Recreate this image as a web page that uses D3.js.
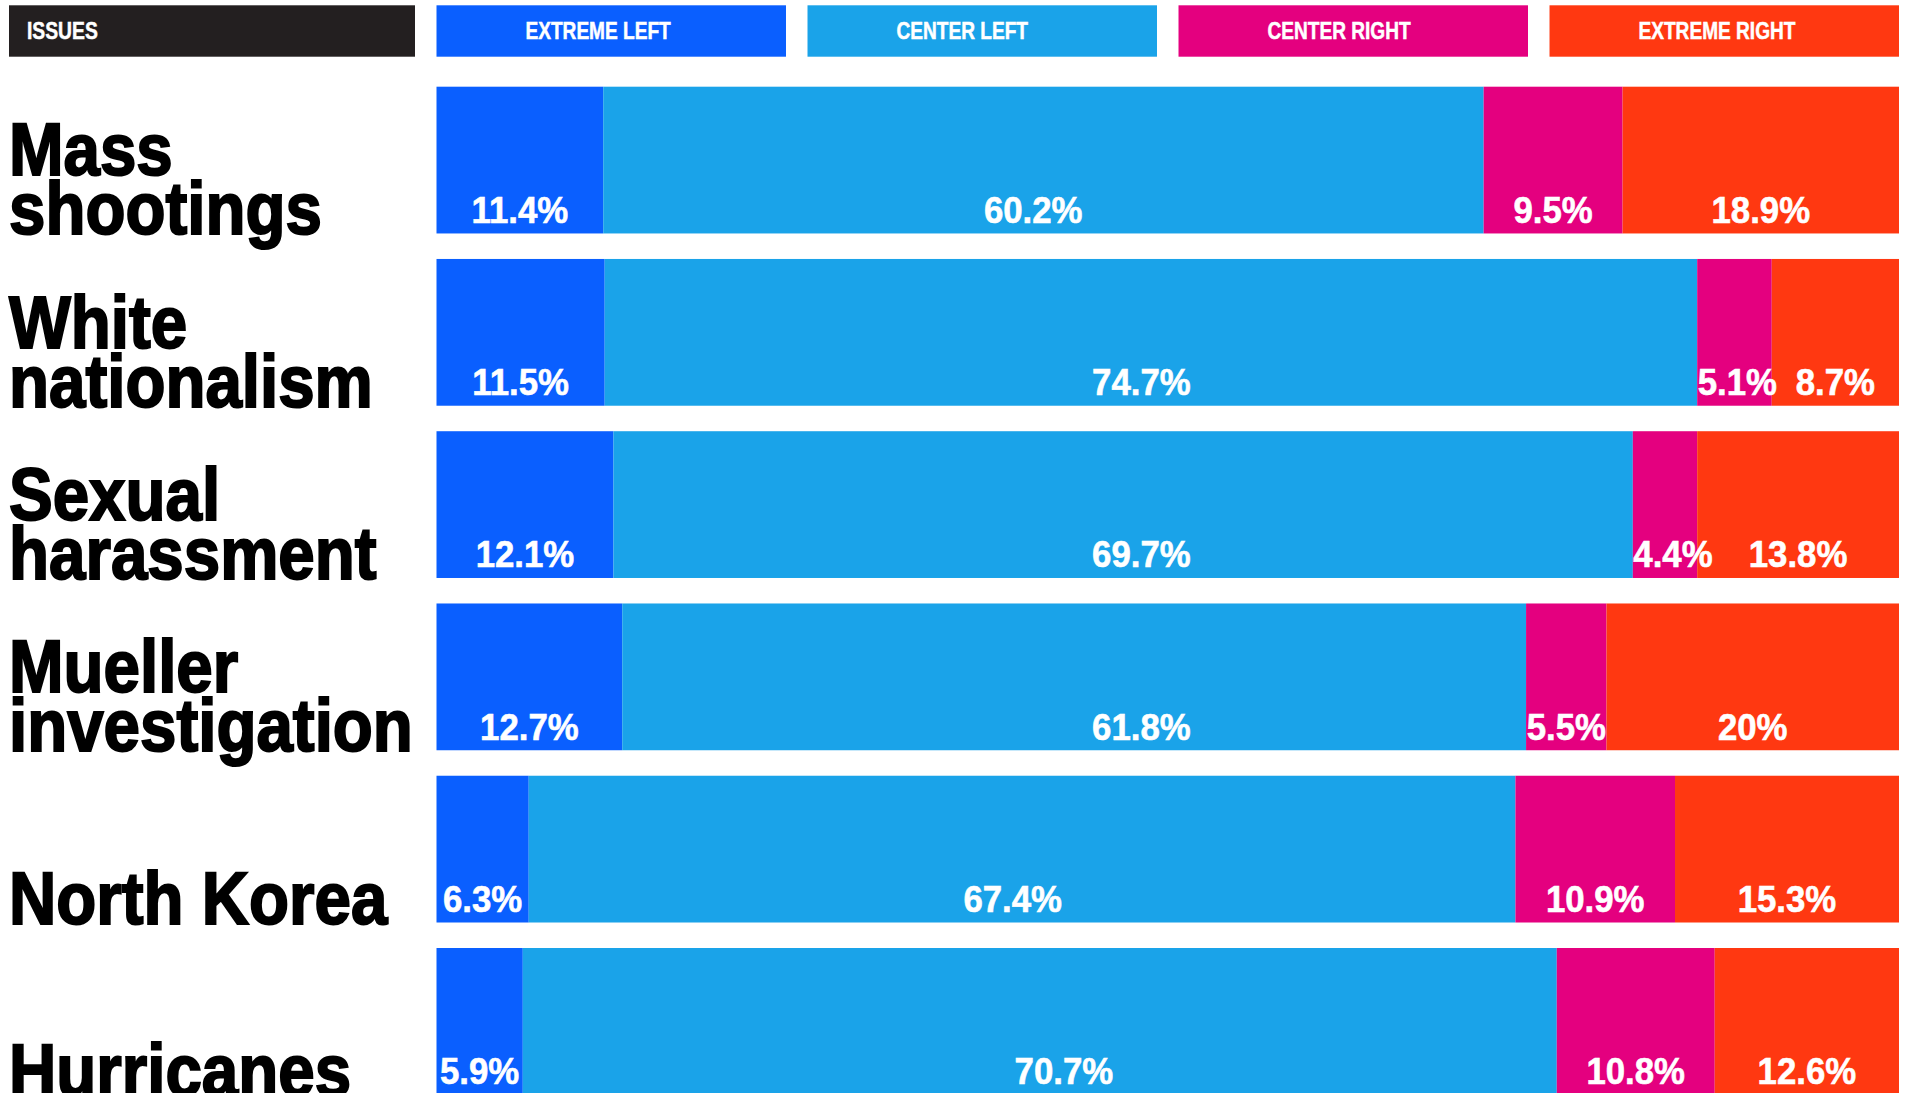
<!DOCTYPE html>
<html>
<head>
<meta charset="utf-8">
<script src="https://cdn.jsdelivr.net/npm/d3@7"></script>
<style>
  html, body { margin: 0; padding: 0; background: #ffffff; }
  svg { display: block; }
  text { font-family: "Liberation Sans", Arial, Helvetica, sans-serif; font-weight: bold; }
</style>
</head>
<body>
<svg id="chart" width="1907" height="1093"></svg>
<script>
// ---- data ----
const categories = ["EXTREME LEFT", "CENTER LEFT", "CENTER RIGHT", "EXTREME RIGHT"];
const keys = ["extremeLeft", "centerLeft", "centerRight", "extremeRight"];
const issues = ["Mass shootings", "White nationalism", "Sexual harassment", "Mueller investigation", "North Korea", "Hurricanes"];
const issueLines = [["Mass", "shootings"], ["White", "nationalism"], ["Sexual", "harassment"], ["Mueller", "investigation"], ["North Korea"], ["Hurricanes"]];
const extremeLeft  = [11.4, 11.5, 12.1, 12.7, 6.3, 5.9];
const centerLeft   = [60.2, 74.7, 69.7, 61.8, 67.4, 70.7];
const centerRight  = [9.5, 5.1, 4.4, 5.5, 10.9, 10.8];
const extremeRight = [18.9, 8.7, 13.8, 20, 15.3, 12.6];
// where the "center left" value label sits along the bar, in percent of the bar (as placed in the original)
const centerLeftLabelAt = [40.8, 48.2, 48.2, 48.2, 39.4, 42.9];
const headerLabel = "ISSUES";

const colors = ["#0a5fff", "#1aa3e9", "#e4007f", "#ff3811"];
const headerColor = "#231f20";

const rows = issues.map((name, i) => ({
  issue: name,
  extremeLeft: extremeLeft[i],
  centerLeft: centerLeft[i],
  centerRight: centerRight[i],
  extremeRight: extremeRight[i],
  clLabel: centerLeftLabelAt[i]
}));

// ---- layout ----
const svg = d3.select("#chart");
const barLeft = 436.5, barRight = 1899;
const rowTop = 86.7, rowStep = 172.26, padInner = 0.148;

const x = d3.scaleLinear().domain([0, 1]).range([barLeft, barRight]);
const y = d3.scaleBand().domain(issues)
  .range([rowTop, rowTop + rowStep * (issues.length - padInner)])
  .paddingInner(padInner).paddingOuter(0);
const color = d3.scaleOrdinal().domain(keys).range(colors);
const legendX = d3.scaleBand().domain(categories).range([barLeft, barRight]).paddingInner(0.058);

// ---- header ----
const headTop = 5.3, headH = 51.4, headBase = 39.3;
const hdr = svg.append("g");
hdr.append("rect").attr("x", 9).attr("y", headTop).attr("width", 406).attr("height", headH).attr("fill", headerColor);
hdr.append("text").attr("transform", `translate(27,${headBase}) scale(0.84,1)`)
  .attr("font-size", 23).attr("fill", "#fff").attr("stroke", "#fff").attr("stroke-width", 0.5).text(headerLabel);

const leg = hdr.selectAll("g.leg").data(categories).join("g").attr("class", "leg");
leg.append("rect")
  .attr("x", d => legendX(d)).attr("y", headTop)
  .attr("width", legendX.bandwidth()).attr("height", headH)
  .attr("fill", (d, i) => colors[i]);
leg.append("text")
  .attr("transform", d => `translate(${legendX(d) + 89},${headBase}) scale(0.83,1)`)
  .attr("font-size", 23).attr("fill", "#fff").attr("stroke", "#fff").attr("stroke-width", 0.5).text(d => d);

// ---- stacked bars ----
const series = d3.stack().keys(keys).offset(d3.stackOffsetExpand)(rows);

const layers = svg.append("g").selectAll("g.layer").data(series).join("g")
  .attr("class", "layer").attr("fill", d => color(d.key));

layers.selectAll("rect").data(d => d).join("rect")
  .attr("x", d => x(d[0]))
  .attr("y", d => y(d.data.issue))
  .attr("width", d => x(d[1]) - x(d[0]))
  .attr("height", y.bandwidth());

// ---- value labels ----
const labelScale = 0.94;
const labelG = svg.append("g");
series.forEach(s => {
  s.forEach(d => {
    const val = d.data[s.key];
    const x0 = x(d[0]), x1 = x(d[1]);
    const cx = s.key === "centerLeft" ? x(d.data.clLabel / 100) : (x0 + x1) / 2;
    const base = y(d.data.issue) + y.bandwidth() - 10.5;
    const t = labelG.append("text")
      .attr("font-size", 37).attr("fill", "#fff")
      .attr("stroke", "#fff").attr("stroke-width", 0.6)
      .text(val + "%");
    const w = t.node().getComputedTextLength() * labelScale;
    const left = Math.max(x0 + 0.5, cx - w / 2);
    t.attr("transform", `translate(${left},${base}) scale(${labelScale},1)`);
  });
});

// ---- issue labels ----
const lineGap = 59;
const issueG = svg.append("g").selectAll("g.issue").data(issues).join("g").attr("class", "issue");
issueG.each(function(name, i) {
  const lines = issueLines[i];
  const lastBase = y(name) + y.bandwidth() + 1;
  d3.select(this).selectAll("text").data(lines).join("text")
    .attr("transform", (l, j) => `translate(9,${lastBase - (lines.length - 1 - j) * lineGap}) scale(0.885,1)`)
    .attr("font-size", 74).attr("fill", "#000")
    .attr("stroke", "#000").attr("stroke-width", 2)
    .text(l => l);
});
</script>
</body>
</html>
